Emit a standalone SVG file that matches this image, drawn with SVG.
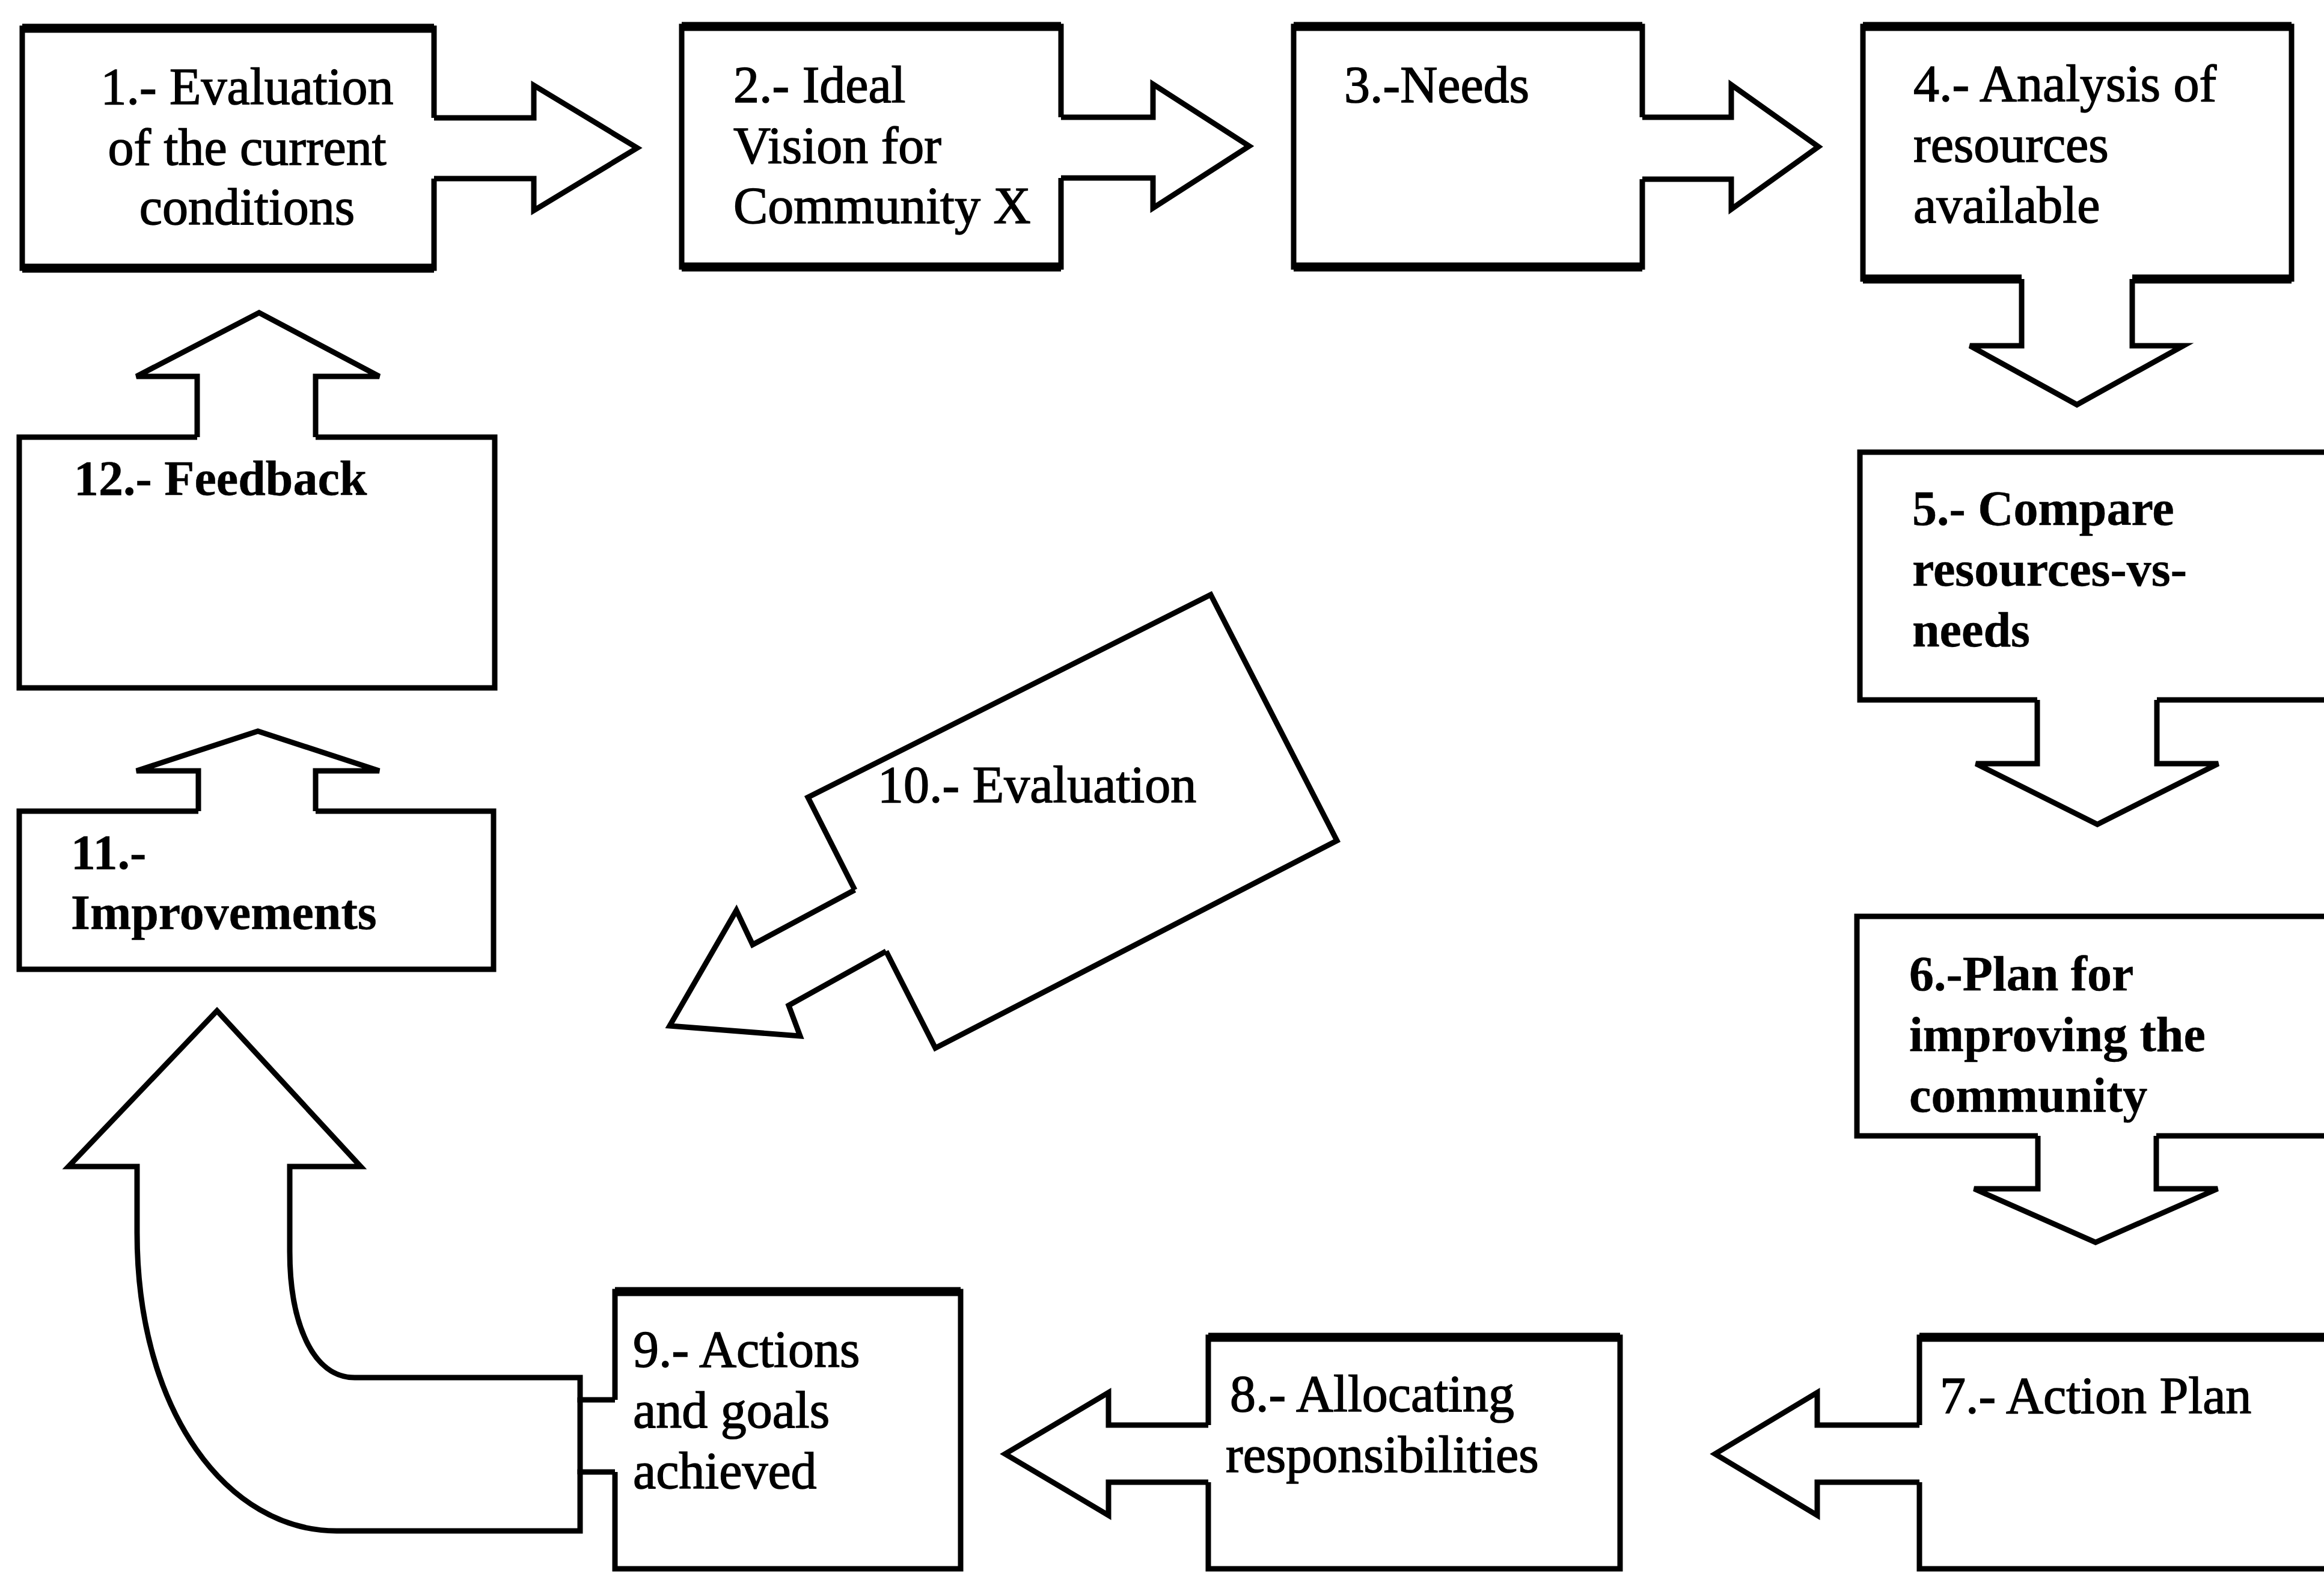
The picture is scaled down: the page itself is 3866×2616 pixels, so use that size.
<svg xmlns="http://www.w3.org/2000/svg" width="3866" height="2616" viewBox="0 0 3866 2616">
<style>
.box{fill:#fff;stroke:#000;stroke-width:9;stroke-linejoin:miter}
.thick{fill:none;stroke:#000;stroke-width:15}
.arw{fill:#fff;stroke:#000;stroke-width:9;stroke-linejoin:miter}
.ln{fill:none;stroke:#000;stroke-width:9}
text{font-family:"Liberation Serif","Times New Roman",serif;font-size:86px;fill:#000;stroke:#000;stroke-width:1.5}
.b{font-weight:bold;font-size:82px;stroke-width:0.5}
</style>
<rect width="3866" height="2616" fill="#fff"/>
<g id="node1">
<path class="box" d="M722,196 L722,47 L37,47 L37,446 L722,446 L722,297"/>
<path class="thick" d="M37,47 L722,47 M37,446 L722,446"/>
<text x="411" y="173" text-anchor="middle">1.- Evaluation</text>
<text x="411" y="274" text-anchor="middle">of the current</text>
<text x="411" y="373" text-anchor="middle">conditions</text>
</g>
<g id="node2">
<path class="box" d="M1765,195 L1765,44 L1134,44 L1134,444 L1765,444 L1765,296"/>
<path class="thick" d="M1134,44 L1765,44 M1134,444 L1765,444"/>
<text x="1220" y="170">2.- Ideal</text>
<text x="1220" y="271">Vision for</text>
<text x="1220" y="371">Community X</text>
</g>
<g id="node3">
<path class="box" d="M2732,195 L2732,44 L2152,44 L2152,444 L2732,444 L2732,298"/>
<path class="thick" d="M2152,44 L2732,44 M2152,444 L2732,444"/>
<text x="2236" y="170">3.-Needs</text>
</g>
<g id="node4">
<path class="box" d="M3363,464 L3099,464 L3099,44 L3812,44 L3812,464 L3547,464"/>
<path class="thick" d="M3099,44 L3812,44 M3099,464 L3363,464 M3547,464 L3812,464"/>
<text x="3183" y="168">4.- Analysis of</text>
<text x="3183" y="269">resources</text>
<text x="3183" y="370">available</text>
</g>
<g id="node5">
<path class="box" d="M3389,1164 L3094,1164 L3094,752 L3900,752 L3900,1164 L3588,1164"/>
<text class="b" x="3181" y="873">5.- Compare</text>
<text class="b" x="3181" y="974">resources-vs-</text>
<text class="b" x="3181" y="1075">needs</text>
</g>
<g id="node6">
<path class="box" d="M3390,1889 L3089,1889 L3089,1524 L3900,1524 L3900,1889 L3587,1889"/>
<text class="b" x="3176" y="1647">6.-Plan for</text>
<text class="b" x="3176" y="1748">improving the</text>
<text class="b" x="3176" y="1849">community</text>
</g>
<g id="node7">
<path class="box" d="M3193,2370 L3193,2224 L3900,2224 L3900,2609 L3193,2609 L3193,2465"/>
<path class="thick" d="M3193,2224 L3900,2224"/>
<text x="3227" y="2350">7.- Action Plan</text>
</g>
<g id="node8">
<path class="box" d="M2010,2370 L2010,2224 L2695,2224 L2695,2609 L2010,2609 L2010,2465"/>
<path class="thick" d="M2010,2224 L2695,2224"/>
<text x="2046" y="2347">8.- Allocating</text>
<text x="2039" y="2448">responsibilities</text>
</g>
<g id="node9">
<path class="box" d="M1023,2328 L1023,2148 L1598,2148 L1598,2609 L1023,2609 L1023,2448"/>
<path class="thick" d="M1023,2148 L1598,2148"/>
<text x="1053" y="2273">9.- Actions</text>
<text x="1053" y="2374">and goals</text>
<text x="1053" y="2475">achieved</text>
</g>
<g id="node10">
<path class="box" d="M1422,1480 L1344,1326 L2014,989 L2224,1398 L1556,1743 L1474,1582"/>
<text x="1460" y="1334">10.- Evaluation</text>
</g>
<g id="node11">
<path class="box" d="M330,1349 L32,1349 L32,1612 L821,1612 L821,1349 L525,1349"/>
<text class="b" x="118" y="1445">11.-</text>
<text class="b" x="118" y="1545">Improvements</text>
</g>
<g id="node12">
<path class="box" d="M328,727 L32,727 L32,1144 L823,1144 L823,727 L525,727"/>
<text class="b" x="123" y="823">12.- Feedback</text>
</g>
<g id="connectors">
<path class="arw" d="M722,196 L888,196 L888,142 L1060,246 L888,350 L888,297 L722,297"/>
<path class="arw" d="M1765,195 L1918,195 L1918,140 L2078,243 L1918,346 L1918,296 L1765,296"/>
<path class="arw" d="M2732,195 L2880,195 L2880,141 L3025,244 L2880,348 L2880,298 L2732,298"/>
<path class="arw" d="M3363,464 L3363,575 L3277,575 L3455,673 L3632,575 L3547,575 L3547,464"/>
<path class="arw" d="M3389,1164 L3389,1270 L3287,1270 L3489,1371 L3690,1270 L3588,1270 L3588,1164"/>
<path class="arw" d="M3390,1889 L3390,1977 L3284,1977 L3486,2066 L3689,1977 L3587,1977 L3587,1889"/>
<path class="arw" d="M3193,2370 L3023,2370 L3023,2316 L2853,2418 L3023,2520 L3023,2465 L3193,2465"/>
<path class="arw" d="M2010,2370 L1844,2370 L1844,2316 L1672,2418 L1844,2520 L1844,2465 L2010,2465"/>
<path class="arw" d="M1023,2328 L965,2328 L965,2291 L590,2291 C520,2291 482,2200 482,2081 L482,1940 L600,1940 L361,1681 L114,1940 L228,1940 L228,2050 C228,2350 380,2546 560,2546 L965,2546 L965,2448 L1023,2448"/>
<path class="ln" d="M965,2324 L965,2452"/>
<path class="arw" d="M1422,1480 L1252,1571 L1225,1514 L1114,1706 L1331,1723 L1312,1672 L1474,1582"/>
<path class="arw" d="M330,1349 L330,1282 L227,1282 L429,1216 L631,1282 L525,1282 L525,1349"/>
<path class="arw" d="M328,727 L328,626 L227,626 L431,520 L631,626 L525,626 L525,727"/>
</g>
</svg>
